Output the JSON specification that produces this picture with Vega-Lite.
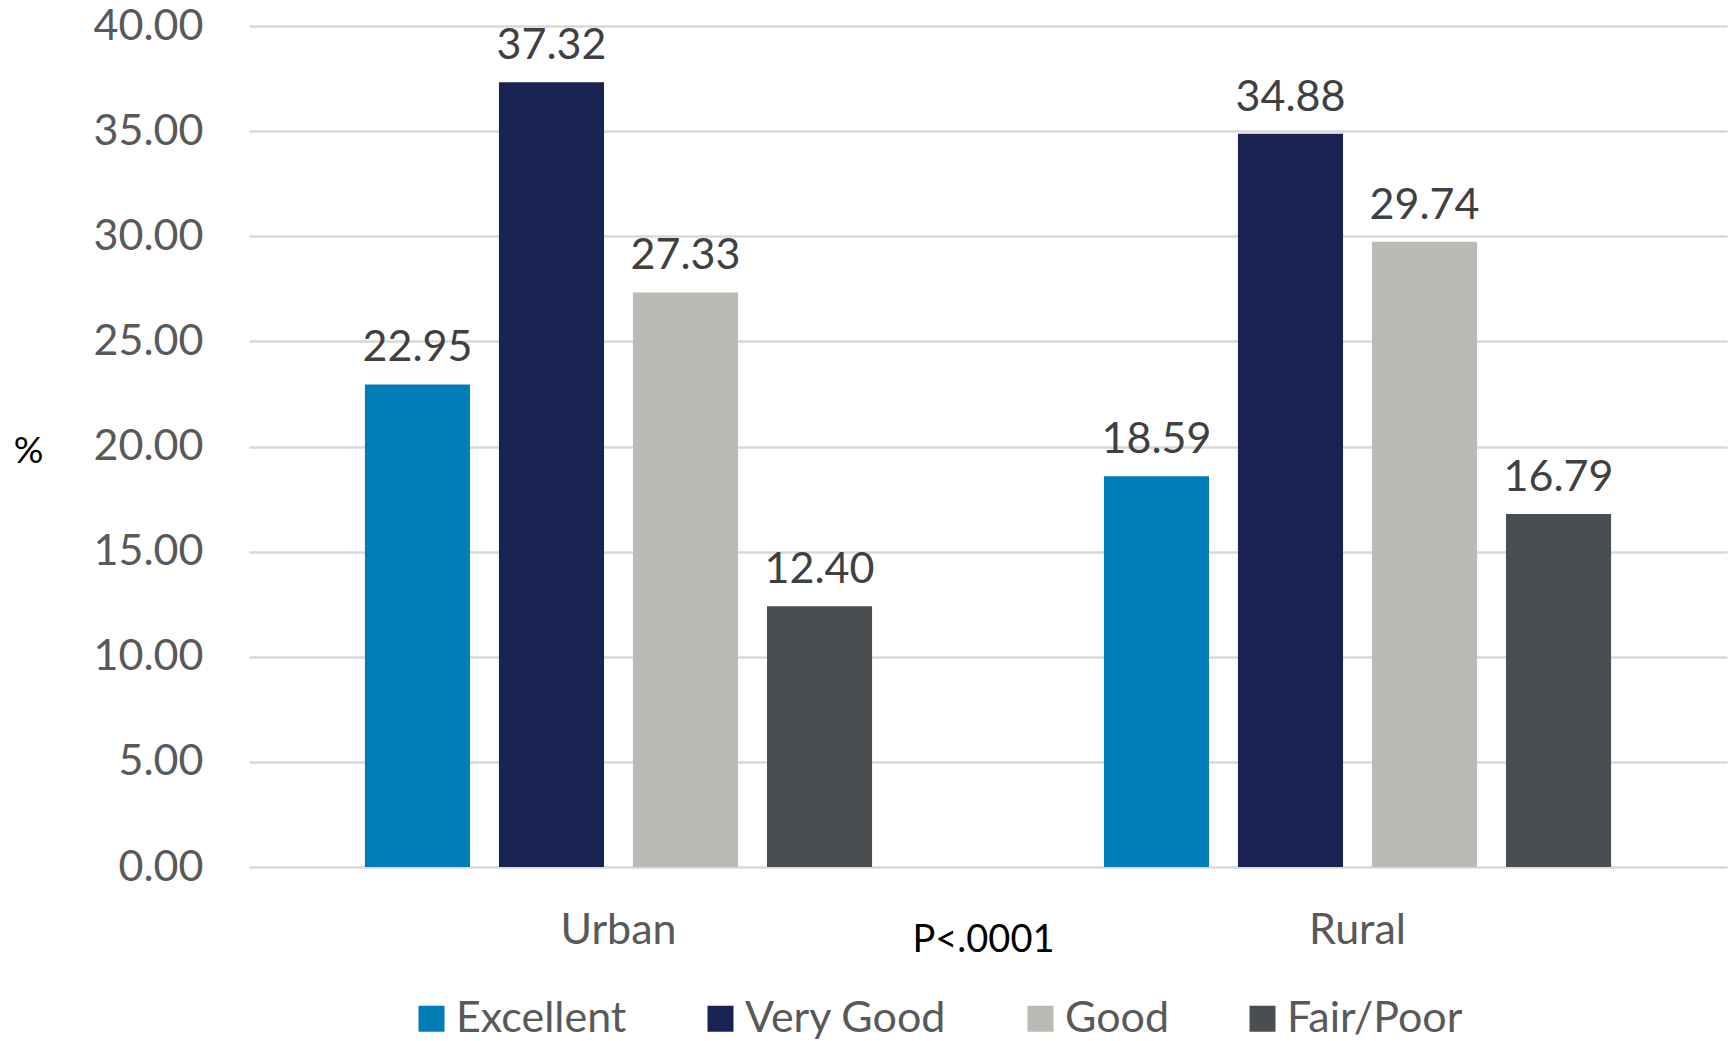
{
  "$schema": "https://vega.github.io/schema/vega-lite/v6.json",
  "width": 1478,
  "height": 841,
  "autosize": {"type": "none"},
  "padding": {"left": 249, "top": 26, "right": 6, "bottom": 174},
  "background": "#ffffff",
  "config": {
    "view": {"stroke": null},
    "font": "Lato"
  },
  "data": {
    "values": [
      {"area": "Urban", "rating": "Excellent", "pct": 22.95},
      {"area": "Urban", "rating": "Very Good", "pct": 37.32},
      {"area": "Urban", "rating": "Good", "pct": 27.33},
      {"area": "Urban", "rating": "Fair/Poor", "pct": 12.40},
      {"area": "Rural", "rating": "Excellent", "pct": 18.59},
      {"area": "Rural", "rating": "Very Good", "pct": 34.88},
      {"area": "Rural", "rating": "Good", "pct": 29.74},
      {"area": "Rural", "rating": "Fair/Poor", "pct": 16.79}
    ]
  },
  "encoding": {
    "x": {
      "field": "area",
      "type": "nominal",
      "sort": ["Urban", "Rural"],
      "scale": {"paddingInner": 0, "paddingOuter": 0},
      "axis": {
        "title": "P<.0001",
        "titleFont": "Lato",
        "titleFontSize": 38,
        "titleFontWeight": "normal",
        "titleColor": "#000000",
        "titleBaseline": "middle",
        "titleX": 734,
        "titleY": 73,
        "labelAngle": 0,
        "labelFont": "Lato",
        "labelFontSize": 43,
        "labelColor": "#595959",
        "labelPadding": 42,
        "ticks": false,
        "domain": false,
        "grid": false
      }
    },
    "xOffset": {
      "field": "rating",
      "type": "nominal",
      "sort": ["Excellent", "Very Good", "Good", "Fair/Poor"],
      "scale": {"paddingInner": 0.216, "paddingOuter": 0.865}
    },
    "y": {
      "field": "pct",
      "type": "quantitative",
      "scale": {"domain": [0, 40]},
      "axis": {
        "title": "%",
        "titleAngle": 0,
        "titleFont": "Lato",
        "titleFontSize": 37,
        "titleFontWeight": "normal",
        "titleColor": "#000000",
        "titleAlign": "center",
        "titleBaseline": "middle",
        "titleX": -221,
        "titleY": 425,
        "values": [0, 5, 10, 15, 20, 25, 30, 35, 40],
        "format": ".2f",
        "labelFont": "Lato",
        "labelFontSize": 43,
        "labelColor": "#595959",
        "labelPadding": 46,
        "ticks": false,
        "domain": false,
        "grid": true,
        "gridColor": "#D9D9D9",
        "gridWidth": 2.5
      }
    }
  },
  "layer": [
    {
      "mark": {"type": "bar"},
      "encoding": {
        "color": {
          "field": "rating",
          "type": "nominal",
          "sort": ["Excellent", "Very Good", "Good", "Fair/Poor"],
          "scale": {
            "domain": ["Excellent", "Very Good", "Good", "Fair/Poor"],
            "range": ["#007DB7", "#182353", "#BABBB5", "#4A4E50"]
          },
          "legend": {
            "title": null,
            "orient": "none",
            "direction": "horizontal",
            "legendX": 161,
            "legendY": 971,
            "symbolType": "square",
            "symbolSize": 676,
            "symbolStrokeWidth": 0,
            "labelFont": "Lato",
            "labelFontSize": 43,
            "labelColor": "#595959",
            "labelOffset": 3,
            "columnPadding": 72,
            "labelLimit": 400
          }
        }
      }
    },
    {
      "mark": {
        "type": "text",
        "baseline": "alphabetic",
        "dy": -23,
        "font": "Lato",
        "fontSize": 43,
        "color": "#404040"
      },
      "encoding": {
        "text": {"field": "pct", "type": "quantitative", "format": ".2f"}
      }
    }
  ]
}
